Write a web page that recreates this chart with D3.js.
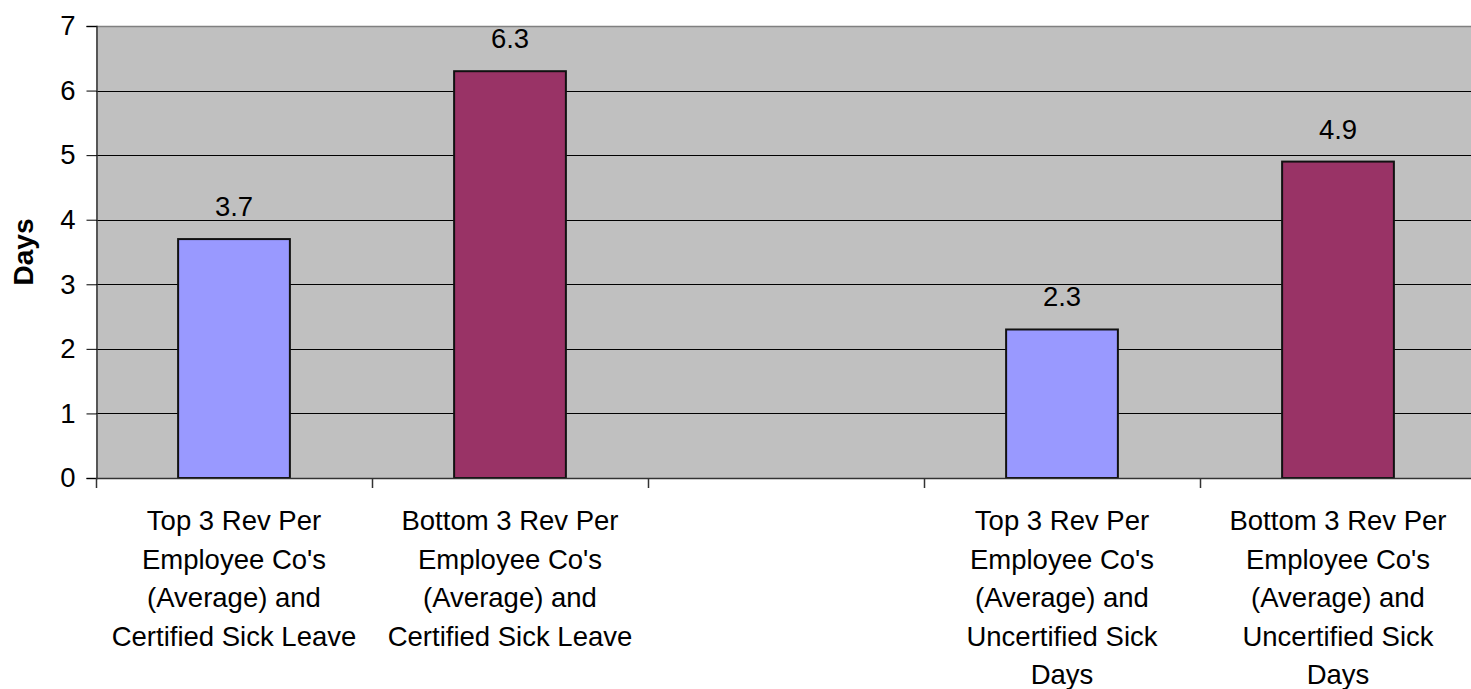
<!DOCTYPE html>
<html>
<head>
<meta charset="utf-8">
<script src="https://cdn.jsdelivr.net/npm/d3@7"></script>
<style>
  html, body { margin: 0; padding: 0; background: #ffffff; }
  svg { display: block; font-family: "Liberation Sans", Arial, sans-serif; }
</style>
</head>
<body>
<svg id="chart" width="1471" height="689"></svg>
<script>
// Sick leave comparison: certified vs uncertified days, top vs bottom revenue-per-employee companies
const categories = [
  "Top 3 Rev Per|Employee Co's|(Average) and|Certified Sick Leave",
  "Bottom 3 Rev Per|Employee Co's|(Average) and|Certified Sick Leave",
  "",
  "Top 3 Rev Per|Employee Co's|(Average) and|Uncertified Sick|Days",
  "Bottom 3 Rev Per|Employee Co's|(Average) and|Uncertified Sick|Days"
];
const values = [3.7, 6.3, null, 2.3, 4.9];
const barColors = ["#9999FF", "#993366", null, "#9999FF", "#993366"];
const yTicks = [0, 1, 2, 3, 4, 5, 6, 7];
const yLabel = "Days";

const svg = d3.select("#chart");
const plot = { left: 96, top: 26, right: 1476, bottom: 478 };
const fontSize = 27.5;

const x = d3.scaleBand()
  .domain(d3.range(categories.length))
  .range([plot.left, plot.right])
  .paddingInner(0).paddingOuter(0);

const y = d3.scaleLinear().domain([0, 7]).range([plot.bottom, plot.top]);

const barW = x.bandwidth() * 0.405;

// plot background
svg.append("rect")
  .attr("x", plot.left).attr("y", plot.top)
  .attr("width", plot.right - plot.left).attr("height", plot.bottom - plot.top)
  .attr("fill", "#C0C0C0");

// gridlines
svg.append("g").selectAll("line")
  .data(yTicks.filter(d => d > 0 && d < 7))
  .join("line")
  .attr("x1", plot.left).attr("x2", plot.right)
  .attr("y1", d => Math.round(y(d)) + 0.5).attr("y2", d => Math.round(y(d)) + 0.5)
  .attr("stroke", "#000").attr("stroke-width", 1);

// top border of plot area
svg.append("line")
  .attr("x1", plot.left).attr("x2", plot.right)
  .attr("y1", plot.top + 0.5).attr("y2", plot.top + 0.5)
  .attr("stroke", "#808080").attr("stroke-width", 1.5);

// bars
const bars = categories.map((c, i) => ({ i, v: values[i], color: barColors[i] }))
  .filter(d => d.v != null);

svg.append("g").selectAll("rect")
  .data(bars)
  .join("rect")
  .attr("x", d => x(d.i) + (x.bandwidth() - barW) / 2)
  .attr("y", d => y(d.v))
  .attr("width", barW)
  .attr("height", d => y(0) - y(d.v))
  .attr("fill", d => d.color)
  .attr("stroke", "#111")
  .attr("stroke-width", 2);

// value labels
svg.append("g").selectAll("text")
  .data(bars)
  .join("text")
  .attr("x", d => x(d.i) + x.bandwidth() / 2)
  .attr("y", d => y(d.v) - 23)
  .attr("text-anchor", "middle")
  .attr("font-size", fontSize)
  .attr("fill", "#000")
  .text(d => d.v.toFixed(1));

// y axis
const yAxis = d3.axisLeft(y).tickValues(yTicks).tickSize(10).tickPadding(11)
  .tickFormat(d3.format("d"));
const gy = svg.append("g")
  .attr("transform", `translate(${plot.left + 0.5},0)`)
  .call(yAxis);
gy.select(".domain").attr("stroke", "#333").attr("stroke-width", 1.5);
gy.selectAll(".tick line").attr("stroke", "#000");
gy.selectAll(".tick text").attr("font-size", fontSize).attr("fill", "#000")
  .attr("font-family", "\"Liberation Sans\", Arial, sans-serif");

// x axis: ticks at category boundaries
const boundaries = d3.range(categories.length).map(i => x(i));
const gx = svg.append("g");
gx.append("line")
  .attr("x1", plot.left).attr("x2", plot.right)
  .attr("y1", plot.bottom + 0.5).attr("y2", plot.bottom + 0.5)
  .attr("stroke", "#333").attr("stroke-width", 1.5);
gx.selectAll("line.tick")
  .data(boundaries)
  .join("line")
  .attr("class", "tick")
  .attr("x1", d => Math.round(d) + 0.5).attr("x2", d => Math.round(d) + 0.5)
  .attr("y1", plot.bottom).attr("y2", plot.bottom + 10)
  .attr("stroke", "#333").attr("stroke-width", 1.5);

// category labels (multi-line)
const lineH = 38.5;
const catG = svg.append("g").selectAll("text")
  .data(categories.map((c, i) => ({ i, lines: c ? c.split("|") : [] })))
  .join("text")
  .attr("text-anchor", "middle")
  .attr("font-size", fontSize)
  .attr("fill", "#000");
catG.selectAll("tspan")
  .data(d => d.lines.map((l, k) => ({ l, k, i: d.i })))
  .join("tspan")
  .attr("x", d => x(d.i) + x.bandwidth() / 2)
  .attr("y", d => 530 + d.k * lineH)
  .text(d => d.l);

// y axis title
svg.append("text")
  .attr("transform", `translate(33,${(plot.top + plot.bottom) / 2}) rotate(-90)`)
  .attr("text-anchor", "middle")
  .attr("font-size", 28)
  .attr("font-weight", "bold")
  .attr("fill", "#000")
  .text(yLabel);
</script>
</body>
</html>
